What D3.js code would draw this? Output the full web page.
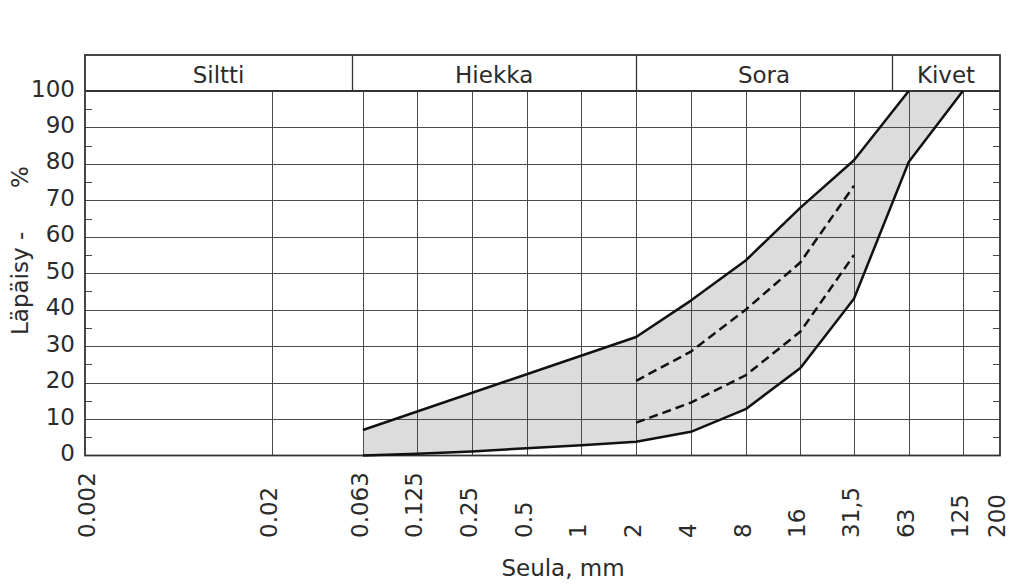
<!DOCTYPE html>
<html>
<head>
<meta charset="utf-8">
<script src="https://cdn.jsdelivr.net/npm/d3@7"></script>
<style>
  html, body { margin: 0; padding: 0; background: #fff; }
  svg { display: block; }
  text { font-family: "DejaVu Sans", Verdana, sans-serif; fill: #2b2b2b; }
</style>
</head>
<body>
<svg id="chart" width="1010" height="588"></svg>
<script>
// ---- data ----
const sieveTicks  = [0.002, 0.02, 0.063, 0.125, 0.25, 0.5, 1, 2, 4, 8, 16, 31.5, 63, 125, 200];
const sieveLabels = ["0.002", "0.02", "0.063", "0.125", "0.25", "0.5", "1", "2", "4", "8", "16", "31,5", "63", "125", "200"];
const gridSieves  = [0.02, 0.063, 0.125, 0.25, 0.5, 1, 2, 4, 8, 16, 31.5, 63, 125];
const percentTicks = [0, 10, 20, 30, 40, 50, 60, 70, 80, 90, 100];
const minorPercent = [5, 15, 25, 35, 45, 55, 65, 75, 85, 95];
const soilClasses = ["Siltti", "Hiekka", "Sora", "Kivet"];
const classBounds = [0.00187, 0.055, 2, 51, 200];

const upperSieve = [0.063, 2, 4, 8, 16, 31.5, 63];
const upperPass  = [7, 32.5, 42.5, 53.5, 68, 81, 100];
const lowerSieve = [0.063, 0.125, 0.25, 0.5, 1, 2, 4, 8, 16, 31.5, 63, 125];
const lowerPass  = [0, 0.5, 1.1, 2, 2.8, 3.8, 6.5, 12.7, 24, 43, 80.5, 100];
const dashSieve  = [2, 4, 8, 16, 31.5];
const dashUpperPass = [20.5, 28.5, 40, 53, 74];
const dashLowerPass = [9, 14.5, 22, 34, 55];

const yTitle = "Läpäisy -      %";
const xTitle = "Seula, mm";

// ---- layout ----
const svg = d3.select("#chart");
const left = 85, right = 1000, top100 = 91, bottom0 = 455.5, headerTop = 55;

const x = d3.scaleLog().domain([0.00187, 200]).range([left, right]);
const y = d3.scaleLinear().domain([0, 100]).range([bottom0, top100]);

const pts = (xs, ys) => xs.map((d, i) => [d, ys[i]]);
const line = d3.line().x(d => x(d[0])).y(d => y(d[1]));

// fill band
const band = pts(upperSieve, upperPass).concat(pts(lowerSieve, lowerPass).reverse());
svg.append("path").attr("d", line(band) + "Z").attr("fill", "#dcdcdc").attr("stroke", "none");

// grid
const g = svg.append("g").attr("stroke", "#4a4a4a").attr("stroke-width", 1).attr("fill", "none");
g.selectAll("line.v").data(gridSieves).join("line")
  .attr("x1", d => Math.round(x(d)) + 0.5).attr("x2", d => Math.round(x(d)) + 0.5)
  .attr("y1", y(100)).attr("y2", y(0));
g.selectAll("line.h").data(percentTicks.slice(1, -1)).join("line")
  .attr("x1", left).attr("x2", right)
  .attr("y1", d => Math.round(y(d)) + 0.5).attr("y2", d => Math.round(y(d)) + 0.5);
// minor ticks left and right (inside)
g.selectAll("line.ml").data(minorPercent).join("line")
  .attr("x1", left).attr("x2", left + 7)
  .attr("y1", d => Math.round(y(d)) + 0.5).attr("y2", d => Math.round(y(d)) + 0.5);
svg.append("g").attr("stroke", "#4a4a4a").selectAll("line").data(minorPercent).join("line")
  .attr("x1", right - 7).attr("x2", right)
  .attr("y1", d => Math.round(y(d)) + 0.5).attr("y2", d => Math.round(y(d)) + 0.5);

// header
const hdr = svg.append("g");
hdr.selectAll("line").data(classBounds.slice(1, -1)).join("line")
  .attr("x1", d => Math.round(x(d)) + 0.5).attr("x2", d => Math.round(x(d)) + 0.5)
  .attr("y1", headerTop).attr("y2", y(100))
  .attr("stroke", "#333").attr("stroke-width", 1.3);
hdr.selectAll("text").data(soilClasses).join("text")
  .attr("x", (d, i) => (x(classBounds[i]) + x(classBounds[i + 1])) / 2)
  .attr("y", 82.5)
  .attr("text-anchor", "middle")
  .attr("font-size", 23)
  .text(d => d);

// frame
svg.append("rect").attr("x", left).attr("y", headerTop).attr("width", right - left).attr("height", bottom0 - headerTop)
  .attr("fill", "none").attr("stroke", "#333").attr("stroke-width", 1.8);
svg.append("line").attr("x1", left).attr("x2", right).attr("y1", y(100)).attr("y2", y(100))
  .attr("stroke", "#333").attr("stroke-width", 1.8);

// curves
svg.append("path").attr("d", line(pts(upperSieve, upperPass)))
  .attr("fill", "none").attr("stroke", "#111").attr("stroke-width", 2.5).attr("stroke-linejoin", "round");
svg.append("path").attr("d", line(pts(lowerSieve, lowerPass)))
  .attr("fill", "none").attr("stroke", "#111").attr("stroke-width", 2.5).attr("stroke-linejoin", "round");
[dashUpperPass, dashLowerPass].forEach(vals => {
  svg.append("path").attr("d", line(pts(dashSieve, vals)))
    .attr("fill", "none").attr("stroke", "#111").attr("stroke-width", 2.5)
    .attr("stroke-dasharray", "9,5");
});

// y tick labels
svg.append("g").selectAll("text").data(percentTicks).join("text")
  .attr("x", left - 10).attr("y", d => y(d)).attr("dy", "0.24em")
  .attr("text-anchor", "end").attr("font-size", 23)
  .text(d => d);

// x tick labels
svg.append("g").selectAll("text").data(sieveTicks).join("text")
  .attr("transform", d => `translate(${x(d) + 5},538) rotate(-90)`)
  .attr("text-anchor", "start").attr("font-size", 23)
  .text((d, i) => sieveLabels[i]);

// titles
svg.append("text").attr("x", 563).attr("y", 576).attr("text-anchor", "middle")
  .attr("font-size", 23).text(xTitle);
svg.append("text").attr("transform", "translate(28,335) rotate(-90)")
  .attr("text-anchor", "start").attr("font-size", 23)
  .style("white-space", "pre").attr("xml:space", "preserve")
  .text(yTitle);
</script>
</body>
</html>
